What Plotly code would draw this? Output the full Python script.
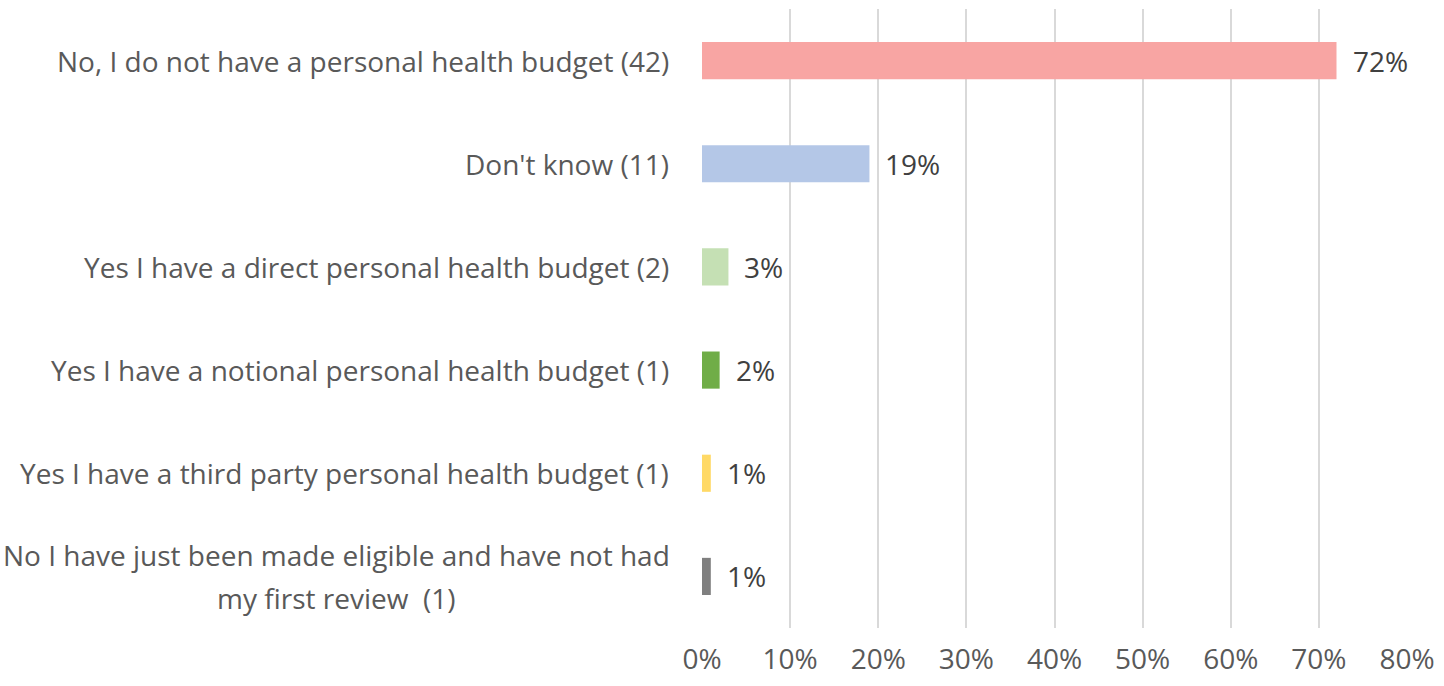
import plotly.graph_objects as go

# Survey responses: does the respondent have a personal health budget?
categories = [
    "No, I do not have a personal health budget (42)",
    "Don't know (11)",
    "Yes I have a direct personal health budget (2)",
    "Yes I have a notional personal health budget (1)",
    "Yes I have a third party personal health budget (1)",
    "No I have just been made eligible and have not had<br>my first review  (1)",
]
shares = [0.72, 0.19, 0.03, 0.02, 0.01, 0.01]
bar_colors = ["#F8A5A3", "#B4C7E7", "#C5E0B4", "#70AD47", "#FFD966", "#7F7F7F"]
x_ticks = [0, 0.1, 0.2, 0.3, 0.4, 0.5, 0.6, 0.7, 0.8]
x_tick_labels = ["0%", "10%", "20%", "30%", "40%", "50%", "60%", "70%", "80%"]

FONT = "Open Sans"
FONT_SIZE = 28
LABEL_PAD = 31        # gap between category labels and the axis
LINE_GAP = 43         # vertical distance between wrapped label lines
WRAP_HALF_WIDTH = 335  # half the width of the longest wrapped line

fig = go.Figure(
    go.Bar(
        x=shares,
        y=categories,
        orientation="h",
        marker=dict(color=bar_colors, line=dict(width=0)),
        width=0.36,
        hoverinfo="skip",
    )
)

# Category labels, centred on each bar, right-aligned against the axis.
# Wrapped labels are laid out line by line so the lines sit centred on one another.
for cat in categories:
    lines = cat.split("<br>")
    n = len(lines)
    for i, line in enumerate(lines):
        offset = ((n - 1) / 2 - i) * LINE_GAP
        fig.add_annotation(
            x=0, xref="paper", y=cat, yref="y",
            text=line, showarrow=False,
            xanchor="center" if n > 1 else "right", yanchor="middle",
            xshift=-LABEL_PAD - (WRAP_HALF_WIDTH if n > 1 else 0),
            yshift=offset,
            font=dict(family=FONT, size=FONT_SIZE, color="#595959"),
        )

# Value labels just past each bar end
for cat, v in zip(categories, shares):
    fig.add_annotation(
        x=v, xref="x", y=cat, yref="y",
        text=f"{round(v * 100)}%", showarrow=False,
        xanchor="left", yanchor="middle",
        xshift=14,
        font=dict(family=FONT, size=FONT_SIZE, color="#404040"),
    )

fig.update_layout(
    width=1444, height=686,
    margin=dict(l=702, r=31, t=9, b=55),
    paper_bgcolor="white", plot_bgcolor="white",
    showlegend=False,
    bargap=0.64,
    xaxis=dict(
        range=[0, 0.8],
        tickvals=x_ticks, ticktext=x_tick_labels,
        showgrid=True, gridcolor="#D9D9D9", gridwidth=2,
        zeroline=False, showline=False, ticks="",
        ticklabelstandoff=12,
        tickfont=dict(family=FONT, size=FONT_SIZE, color="#595959"),
        fixedrange=True,
    ),
    yaxis=dict(
        autorange="reversed",
        showticklabels=False, showgrid=False, zeroline=False,
        showline=False, ticks="",
        fixedrange=True,
    ),
)

fig.write_html("out.html")
